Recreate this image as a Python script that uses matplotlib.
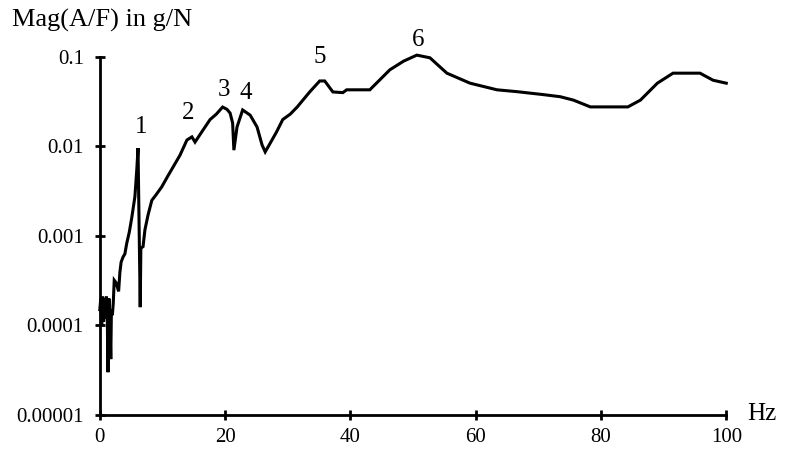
import matplotlib.pyplot as plt
from matplotlib.ticker import FixedLocator, FixedFormatter, NullLocator

plt.rcParams['font.family'] = ['Liberation Serif', 'DejaVu Serif']

# measured FRF magnitude, accelerance A/F
freq = [0.0, 0.15, 0.3, 0.45, 0.6, 0.75, 0.9, 1.05, 1.2, 1.3, 1.45, 1.6, 1.75,
        1.85, 2.0, 2.15, 2.3, 2.6, 3.0, 3.2, 3.4, 3.7, 4.0, 4.3, 4.7, 5.1, 5.6,
        5.9, 6.1, 6.45, 6.55, 6.9, 7.2, 7.7, 8.3, 9.0, 9.9, 10.8, 11.7, 12.8,
        13.9, 14.7, 15.2, 16.4, 17.6, 18.6, 19.6, 20.3, 20.8, 21.2, 21.4, 21.9,
        22.8, 24.0, 25.1, 25.9, 26.4, 27.2, 28.2, 29.2, 30.4, 31.5, 33.5, 35.1,
        35.9, 37.2, 38.8, 39.4, 43.1, 46.3, 48.5, 50.6, 52.7, 55.4, 59.1, 63.4,
        66.6, 70.8, 73.5, 75.6, 78.3, 84.3, 86.3, 89.0, 91.5, 95.8, 97.9, 100.0]
mag = [1.5e-4, 2.0e-4, 1.0e-4, 2.1e-4, 1.1e-4, 2.0e-4, 1.2e-4, 2.1e-4, 1.1e-4,
       3.0e-5, 2.0e-4, 1.3e-4, 4.2e-5, 1.5e-4, 1.3e-4, 1.8e-4, 3.2e-4, 3.0e-4,
       2.4e-4, 3.9e-4, 5.1e-4, 5.8e-4, 6.3e-4, 8.3e-4, 1.1e-3, 1.6e-3, 2.75e-3,
       5.5e-3, 9.6e-3, 1.6e-4, 7.3e-4, 7.6e-4, 1.17e-3, 1.72e-3, 2.5e-3, 2.9e-3,
       3.55e-3, 4.6e-3, 5.9e-3, 8.0e-3, 1.18e-2, 1.28e-2, 1.12e-2, 1.5e-2,
       2.0e-2, 2.3e-2, 2.76e-2, 2.6e-2, 2.36e-2, 1.83e-2, 9.1e-3, 1.65e-2,
       2.56e-2, 2.24e-2, 1.65e-2, 1.04e-2, 8.7e-3, 1.09e-2, 1.45e-2, 2.0e-2,
       2.3e-2, 2.76e-2, 4.07e-2, 5.4e-2, 5.4e-2, 4.07e-2, 4.0e-2, 4.3e-2,
       4.3e-2, 7.2e-2, 9.0e-2, 0.105, 0.098, 0.066, 0.051, 0.043, 0.041, 0.038,
       0.036, 0.033, 0.0277, 0.0277, 0.033, 0.051, 0.066, 0.066, 0.055, 0.051]

# mode numbers and the frequency of each resonance peak
modes = ['1', '2', '3', '4', '5', '6']
mode_freq = [6.1, 14.7, 19.6, 22.8, 35.1, 50.6]
label_shift = [(2, 15), (-3, 17), (1, 12), (2, 12), (0, 17), (1, 11)]

y_ticks = [1e-5, 1e-4, 1e-3, 1e-2, 1e-1]
y_labels = ['0.00001', '0.0001', '0.001', '0.01', '0.1']
x_ticks = [0, 20, 40, 60, 80, 100]

fig = plt.figure(figsize=(7.86, 4.49), dpi=100)
ax = fig.add_axes([0.127, 0.076, 0.797, 0.797])

ax.plot(freq, mag, color='black', lw=2.2, solid_joinstyle='miter',
        clip_on=False)
ax.set_yscale('log')
ax.set_xlim(0, 100)
ax.set_ylim(1e-5, 1e-1)

ax.yaxis.set_major_locator(FixedLocator(y_ticks))
ax.yaxis.set_major_formatter(FixedFormatter(y_labels))
ax.yaxis.set_minor_locator(NullLocator())
ax.set_xticks(x_ticks)

for s in ['top', 'right']:
    ax.spines[s].set_visible(False)
for s in ['left', 'bottom']:
    ax.spines[s].set_linewidth(2)
ax.tick_params(axis='both', direction='inout', length=7, width=2,
               labelsize=15)
ax.tick_params(axis='y', pad=8)
ax.tick_params(axis='x', pad=6)

for m, f, d in zip(modes, mode_freq, label_shift):
    v = mag[freq.index(f)]
    ax.annotate(m, (f, v), xytext=d, textcoords='offset points',
                ha='center', va='center', fontsize=18,
                annotation_clip=False)

fig.text(12 / 786, 1 - 20 / 449, 'Mag(A/F) in g/N', fontsize=19,
         ha='left', va='center')
fig.text(762 / 786, 1 - 414 / 449, 'Hz', fontsize=18, ha='center',
         va='center')

fig.savefig('out.png', dpi=100)
